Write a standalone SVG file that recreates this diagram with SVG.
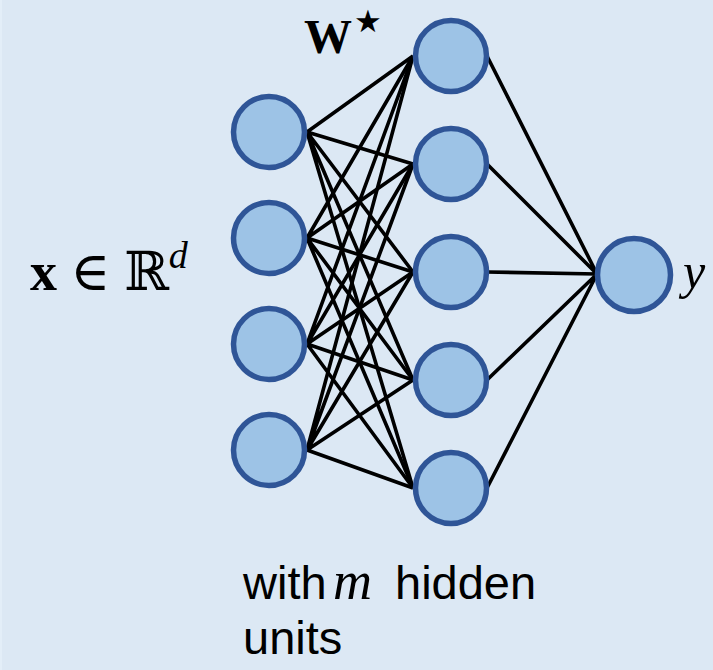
<svg xmlns="http://www.w3.org/2000/svg" width="713" height="670" viewBox="0 0 713 670">
<style>
.node{fill:#9dc3e6;stroke:#2f5597;stroke-width:5.5}
.edge{stroke:#000;stroke-width:3.6;fill:none}
.math{font-family:"Liberation Serif","DejaVu Serif",serif;fill:#000}
.sans{font-family:"Liberation Sans",Arial,sans-serif;fill:#000}
</style>
<rect x="0" y="0" width="713" height="670" fill="#dce8f4"/>
<rect x="0" y="0" width="2" height="670" fill="#e3eef8"/>
<g id="connectors" class="edge">
<path d="M307 132L413 56M307 132L413 164M307 132L413 272M307 132L413 380M307 132L413 488"/>
<path d="M307 238L413 56M307 238L413 164M307 238L413 272M307 238L413 380M307 238L413 488"/>
<path d="M307 344L413 56M307 344L413 164M307 344L413 272M307 344L413 380M307 344L413 488"/>
<path d="M307 450L413 56M307 450L413 164M307 450L413 272M307 450L413 380M307 450L413 488"/>
<path d="M487 56L597 274M487 164L597 274M487 272L597 274M487 380L597 274M487 488L597 274"/>
</g>
<g id="in1"><circle class="node" cx="269" cy="132" r="35.5"/></g>
<g id="in2"><circle class="node" cx="269" cy="238" r="35.5"/></g>
<g id="in3"><circle class="node" cx="269" cy="344" r="35.5"/></g>
<g id="in4"><circle class="node" cx="269" cy="450" r="35.5"/></g>
<g id="h1"><circle class="node" cx="451" cy="56" r="35.5"/></g>
<g id="h2"><circle class="node" cx="451" cy="164" r="35.5"/></g>
<g id="h3"><circle class="node" cx="451" cy="272" r="35.5"/></g>
<g id="h4"><circle class="node" cx="451" cy="380" r="35.5"/></g>
<g id="h5"><circle class="node" cx="451" cy="488" r="35.5"/></g>
<g id="out"><circle class="node" cx="634" cy="275" r="36.5"/></g>
<g id="label-x">
<text class="math" x="30" y="290" font-size="54"><tspan font-weight="bold">x</tspan> ∈ ℝ<tspan dy="-22" font-size="38" font-style="italic">d</tspan></text>
</g>
<g id="label-W">
<text class="math" x="304" y="53" font-size="48" font-weight="bold">W</text>
<text x="354" y="32" font-size="31" font-family="'DejaVu Sans',sans-serif" fill="#000">★</text>
</g>
<g id="label-y">
<text class="math" x="683" y="288" font-size="50" font-style="italic">y</text>
</g>
<g id="caption">
<text class="sans" x="243" y="599" font-size="47">with<tspan class="math" font-style="italic" x="333" font-size="54">m</tspan><tspan x="395">hidden</tspan></text>
<text class="sans" x="243" y="654" font-size="47">units</text>
</g>
</svg>
